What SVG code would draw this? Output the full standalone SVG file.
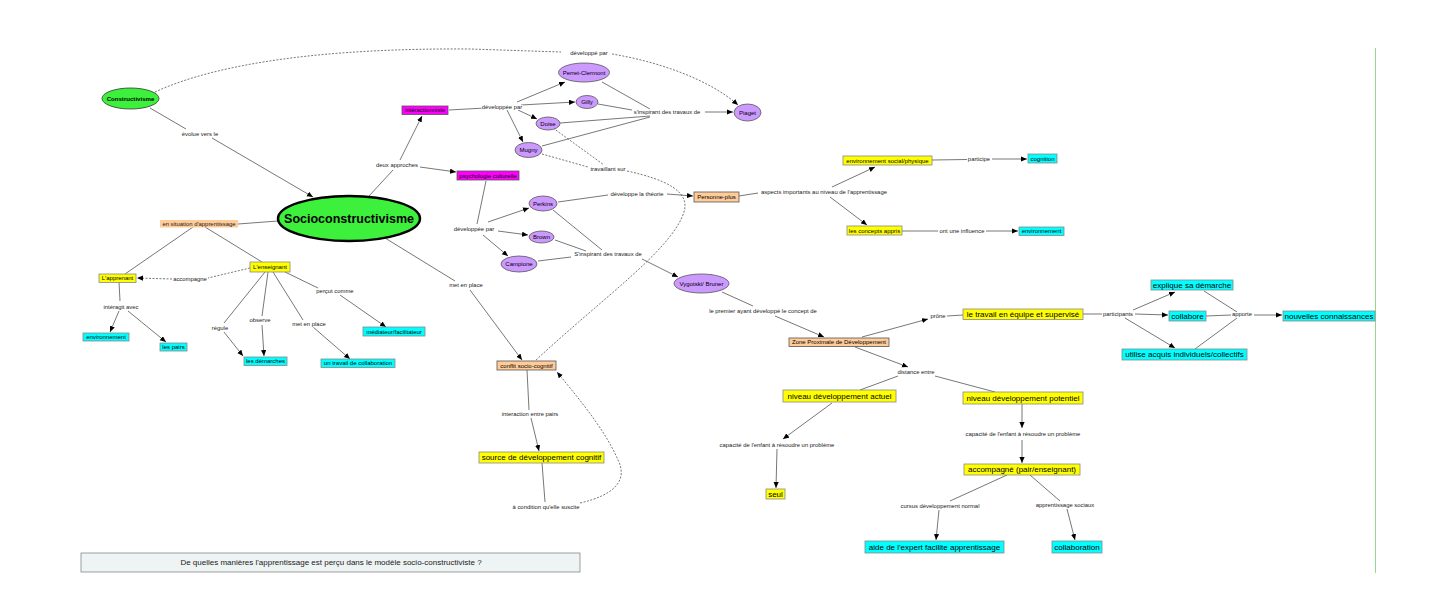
<svg xmlns="http://www.w3.org/2000/svg" width="1450" height="614" viewBox="0 0 1450 614">
<style>
text{font-family:"Liberation Sans",Arial,sans-serif;text-anchor:middle;dominant-baseline:central}
.lk{font-size:5.9px;fill:#222;stroke:#fff;stroke-width:1.6px;paint-order:stroke;stroke-linejoin:round}
.nt{font-size:6px;fill:#000}
.bt{font-size:8px;fill:#000}
.c path{fill:none;stroke:#4a4a4a;stroke-width:0.75}
.c .d{stroke-dasharray:2,1.5}
.y{fill:#ffff00;stroke:#888;stroke-width:0.8}
.cy{fill:#00ffff;stroke:#888;stroke-width:0.8}
.pe{fill:#ffcc99;stroke:#555;stroke-width:0.8}
.mg{fill:#ff00ff;stroke:#555;stroke-width:0.8}
.pu{fill:#cc99ff;stroke:#555;stroke-width:0.8}
.gr{fill:#3cf03c;stroke:#333;stroke-width:0.8}
</style>
<defs>
<marker id="ah" markerUnits="userSpaceOnUse" markerWidth="7" markerHeight="6" refX="6" refY="2.6" orient="auto">
<path d="M0,0 L6,2.6 L0,5.2 z" fill="#000"/>
</marker>
</defs>
<rect width="1450" height="614" fill="#fff"/>
<line x1="1375.5" y1="48" x2="1375.5" y2="573" stroke="#94d894" stroke-width="1"/>

<g id="connectors" class="c">
<path d="M150,108 L186,129"/>
<path d="M212,138 L313,197" marker-end="url(#ah)"/>
<path class="d" d="M155,92 C220,62 330,48 470,49 L561,52"/>
<path class="d" d="M612,54 C660,62 710,80 738,105" marker-end="url(#ah)"/>
<path d="M369,196 L393,170"/>
<path d="M400,160 L422,116" marker-end="url(#ah)"/>
<path d="M420,167 L456,172" marker-end="url(#ah)"/>
<path d="M238,224 L278,221"/>
<path d="M193,227 L125,274"/>
<path d="M205,227 L262,262"/>
<path class="d" d="M250,268 L208,278"/>
<path class="d" d="M172,279 L137,278" marker-end="url(#ah)"/>
<path d="M119,282 L120,301"/>
<path d="M119,311 L110,332" marker-end="url(#ah)"/>
<path d="M128,311 L166,342" marker-end="url(#ah)"/>
<path d="M265,272 L224,323"/>
<path d="M224,332 L243,356" marker-end="url(#ah)"/>
<path d="M268,272 L262,316"/>
<path d="M262,325 L264,356" marker-end="url(#ah)"/>
<path d="M273,272 L303,320"/>
<path d="M313,327 L350,359" marker-end="url(#ah)"/>
<path d="M285,272 L318,288"/>
<path d="M340,295 L386,327" marker-end="url(#ah)"/>
<path d="M385,238 L455,281"/>
<path d="M470,290 L522,360" marker-end="url(#ah)"/>
<path d="M449,110 L485,108"/>
<path d="M517,102 L565,82" marker-end="url(#ah)"/>
<path d="M521,105 L575,102" marker-end="url(#ah)"/>
<path d="M518,110 L537,119" marker-end="url(#ah)"/>
<path d="M507,110 L523,142" marker-end="url(#ah)"/>
<path d="M602,82 L650,109"/>
<path d="M598,104 L632,110"/>
<path d="M560,123 L650,116"/>
<path d="M542,146 L650,117"/>
<path d="M705,112 L733,112" marker-end="url(#ah)"/>
<path class="d" d="M553,128 L604,165"/>
<path class="d" d="M542,154 L588,167"/>
<path class="d" d="M627,171 C668,180 690,192 684,212 C672,250 600,300 535,361"/>
<path d="M486,181 L477,224"/>
<path d="M488,222 L529,208" marker-end="url(#ah)"/>
<path d="M498,231 L528,235" marker-end="url(#ah)"/>
<path d="M483,235 L508,256" marker-end="url(#ah)"/>
<path d="M558,202 L608,195"/>
<path d="M667,194 L693,196" marker-end="url(#ah)"/>
<path d="M553,210 L602,250"/>
<path d="M555,240 L586,251"/>
<path d="M538,261 L571,257"/>
<path d="M642,259 L678,277" marker-end="url(#ah)"/>
<path d="M739,196 L758,193"/>
<path d="M832,187 L875,167" marker-end="url(#ah)"/>
<path d="M830,197 L867,225" marker-end="url(#ah)"/>
<path d="M932,160 L967,159.5"/>
<path d="M992,159 L1027,159" marker-end="url(#ah)"/>
<path d="M902,231 L938,231"/>
<path d="M986,231 L1018,231" marker-end="url(#ah)"/>
<path d="M722,292 L753,306"/>
<path d="M775,316 L824,337" marker-end="url(#ah)"/>
<path d="M862,337 L928,319" marker-end="url(#ah)"/>
<path d="M947,316 L963,315"/>
<path d="M855,347 L908,367" marker-end="url(#ah)"/>
<path d="M898,376 L860,390"/>
<path d="M935,376 L995,392"/>
<path d="M1083,314 L1102,314"/>
<path d="M1133,310 L1175,292" marker-end="url(#ah)"/>
<path d="M1135,314 L1168,315" marker-end="url(#ah)"/>
<path d="M1125,318 L1175,348" marker-end="url(#ah)"/>
<path d="M1204,291 L1237,312"/>
<path d="M1206,316 L1231,315"/>
<path d="M1195,349 L1237,318"/>
<path d="M1254,315 L1282,315" marker-end="url(#ah)"/>
<path d="M832,403 L783,439" marker-end="url(#ah)"/>
<path d="M777,449 L776,488" marker-end="url(#ah)"/>
<path d="M1022,404 L1022,428" marker-end="url(#ah)"/>
<path d="M1022,440 L1022,463" marker-end="url(#ah)"/>
<path d="M1007,475 L950,501"/>
<path d="M939,510 L936,540" marker-end="url(#ah)"/>
<path d="M1030,475 L1060,501"/>
<path d="M1067,509 L1075,540" marker-end="url(#ah)"/>
<path d="M527,370 L529,410"/>
<path d="M531,418 L539,451" marker-end="url(#ah)"/>
<path d="M542,463 L545,502"/>
<path class="d" d="M580,503 C615,495 628,480 618,460 C605,430 580,400 557,372" marker-end="url(#ah)"/>
</g>

<g id="labels">
<text class="lk" x="589" y="53">développé par</text>
<text class="lk" x="200" y="134">évolue vers le</text>
<text class="lk" x="397" y="165">deux approches</text>
<text class="lk" x="502" y="107">développée par</text>
<text class="lk" x="667" y="112">s'inspirant des travaux de</text>
<text class="lk" x="608" y="169">travaillant sur</text>
<text class="lk" x="474" y="229">développée par</text>
<text class="lk" x="637" y="194">développe la théorie</text>
<text class="lk" x="608" y="254">S'inspirant des travaux de</text>
<text class="lk" x="466" y="285">met en place</text>
<text class="lk" x="824" y="192">aspects importants au niveau de l'apprentissage</text>
<text class="lk" x="979" y="159">participe</text>
<text class="lk" x="962" y="231">ont une influence</text>
<text class="lk" x="190" y="279">accompagne</text>
<text class="lk" x="121" y="307">intéragit avec</text>
<text class="lk" x="220" y="328">régule</text>
<text class="lk" x="260" y="320">observe</text>
<text class="lk" x="309" y="324">met en place</text>
<text class="lk" x="335" y="291">perçut comme</text>
<text class="lk" x="530" y="414">interaction entre pairs</text>
<text class="lk" x="546" y="507">à condition qu'elle suscite</text>
<text class="lk" x="763" y="311">le premier ayant développé le concept de</text>
<text class="lk" x="938" y="316">prône</text>
<text class="lk" x="916" y="372">distance entre</text>
<text class="lk" x="1118" y="314">participants</text>
<text class="lk" x="1242" y="314">apporte</text>
<text class="lk" x="777" y="445">capacité de l'enfant à résoudre un problème</text>
<text class="lk" x="1023" y="434">capacité de l'enfant à résoudre un problème</text>
<text class="lk" x="940" y="506">cursus développement normal</text>
<text class="lk" x="1065" y="505">apprentissage sociaux</text>
</g>

<g id="n-constructivisme"><ellipse class="gr" cx="130.5" cy="98.5" rx="28.5" ry="10.5"/><text x="130.5" y="98.5" style="font-size:6.1px;font-weight:bold">Constructivisme</text></g>
<g id="n-socio"><ellipse cx="349" cy="218.5" rx="71" ry="22.5" fill="#3cf03c" stroke="#000" stroke-width="2.5"/><text x="349" y="218.5" style="font-size:12.5px;font-weight:bold">Socioconstructivisme</text></g>
<g id="n-situation"><rect x="160" y="220" width="78" height="7.5" fill="#ffcc99"/><text x="199" y="223.8" style="font-size:5.9px;fill:#222">en situation d'apprentissage</text></g>
<g id="n-interactionniste"><rect class="mg" x="402" y="106" width="46" height="8.5"/><text class="nt" x="425" y="110.3">intéractionniste</text></g>
<g id="n-psycho"><rect class="mg" x="457" y="171" width="62" height="9"/><text class="nt" x="488" y="175.5">psychologie culturelle</text></g>
<g id="n-perret"><ellipse class="pu" cx="584" cy="72.5" rx="25.5" ry="9.5"/><text class="nt" x="584" y="72.5">Perret-Clermont</text></g>
<g id="n-gilly"><ellipse class="pu" cx="587" cy="102" rx="11" ry="6.5"/><text class="nt" x="587" y="102">Gilly</text></g>
<g id="n-doise"><ellipse class="pu" cx="548" cy="123.5" rx="12" ry="6.5"/><text class="nt" x="548" y="123.5">Doise</text></g>
<g id="n-mugny"><ellipse class="pu" cx="528.5" cy="150" rx="13.5" ry="7.5"/><text class="nt" x="528.5" y="150">Mugny</text></g>
<g id="n-piaget"><ellipse class="pu" cx="747.5" cy="112.5" rx="13.5" ry="8.5"/><text class="nt" x="747.5" y="112.5">Piaget</text></g>
<g id="n-perkins"><ellipse class="pu" cx="543" cy="203.5" rx="14" ry="7.5"/><text class="nt" x="543" y="203.5">Perkins</text></g>
<g id="n-brown"><ellipse class="pu" cx="541.5" cy="237" rx="12.5" ry="6"/><text class="nt" x="541.5" y="237">Brown</text></g>
<g id="n-campione"><ellipse class="pu" cx="519" cy="264" rx="18" ry="8"/><text class="nt" x="519" y="264">Campione</text></g>
<g id="n-vygotski"><ellipse class="pu" cx="701.5" cy="283.5" rx="27.5" ry="9.5"/><text class="nt" x="701.5" y="283.5">Vygotski/ Bruner</text></g>
<g id="n-personne"><rect class="pe" x="694" y="192" width="45" height="10"/><text class="nt" x="716.5" y="197">Personne-plus</text></g>
<g id="n-envsocial"><rect class="y" x="843" y="156" width="89" height="9"/><text class="nt" x="887.5" y="160.5">environnement social/physique</text></g>
<g id="n-cognition"><rect class="cy" x="1028" y="154" width="29" height="9"/><text class="nt" x="1042.5" y="158.5">cognition</text></g>
<g id="n-concepts"><rect class="y" x="847" y="226" width="55" height="9"/><text class="nt" x="874.5" y="230.5">les concepts appris</text></g>
<g id="n-environnement-r"><rect class="cy" x="1019" y="227" width="45" height="8.5"/><text class="nt" x="1041.5" y="231.3">environnement</text></g>
<g id="n-apprenant"><rect class="y" x="99" y="274" width="37" height="8.5"/><text class="nt" x="117.5" y="278.3">L'apprenant</text></g>
<g id="n-enseignant"><rect class="y" x="250" y="262" width="40" height="10"/><text class="nt" x="270" y="267">L'enseignant</text></g>
<g id="n-environnement-l"><rect class="cy" x="83" y="333" width="46" height="8"/><text class="nt" x="106" y="337">environnement</text></g>
<g id="n-pairs"><rect class="cy" x="160" y="343" width="27" height="8"/><text class="nt" x="173.5" y="347">les pairs</text></g>
<g id="n-demarches"><rect class="cy" x="244" y="357" width="43" height="8.5"/><text class="nt" x="265.5" y="361.3">les démarches</text></g>
<g id="n-travail-collab"><rect class="cy" x="321" y="359" width="74" height="8.5"/><text class="nt" x="358" y="363.3">un travail de collaboration</text></g>
<g id="n-mediateur"><rect class="cy" x="363" y="327" width="62" height="9"/><text class="nt" x="394" y="331.5">médiateur/facilitateur</text></g>
<g id="n-conflit"><rect class="pe" x="497" y="361" width="59" height="9"/><text class="nt" x="526.5" y="365.5">conflit socio-cognitif</text></g>
<g id="n-source"><rect class="y" x="479" y="452" width="125" height="11"/><text class="bt" x="541.5" y="457.5">source de développement cognitif</text></g>
<g id="n-zpd"><rect class="pe" x="789" y="338" width="100" height="8.5"/><text class="nt" x="839" y="342.3">Zone Proximale de Développement</text></g>
<g id="n-travail-equipe"><rect class="y" x="963" y="309" width="120" height="10.5"/><text class="bt" x="1023" y="314.3">le travail en équipe et supervisé</text></g>
<g id="n-actuel"><rect class="y" x="783" y="390" width="113" height="12"/><text class="bt" x="839.5" y="396">niveau développement actuel</text></g>
<g id="n-potentiel"><rect class="y" x="963" y="392" width="120" height="12"/><text class="bt" x="1023" y="398">niveau développement potentiel</text></g>
<g id="n-explique"><rect class="cy" x="1151" y="280" width="82" height="10"/><text class="bt" x="1192" y="285">explique sa démarche</text></g>
<g id="n-collabore"><rect class="cy" x="1169" y="311" width="37" height="10"/><text class="bt" x="1187.5" y="316">collabore</text></g>
<g id="n-nouvelles"><rect class="cy" x="1283" y="311" width="92" height="10"/><text class="bt" x="1329" y="316">nouvelles connaissances</text></g>
<g id="n-utilise"><rect class="cy" x="1122" y="349" width="125" height="11"/><text class="bt" x="1184.5" y="354.5">utilise acquis individuels/collectifs</text></g>
<g id="n-seul"><rect class="y" x="766" y="489" width="19" height="10"/><text class="bt" x="775.5" y="494">seul</text></g>
<g id="n-accompagne"><rect class="y" x="964" y="464" width="116" height="11"/><text class="bt" x="1022" y="469.5">accompagné (pair/enseignant)</text></g>
<g id="n-aide"><rect class="cy" x="865" y="541" width="139" height="12"/><text class="bt" x="934.5" y="547">aide de l'expert facilite apprentissage</text></g>
<g id="n-collaboration"><rect class="cy" x="1052" y="541" width="50" height="12"/><text class="bt" x="1077" y="547">collaboration</text></g>
<g id="question"><rect x="81" y="553" width="499" height="19" fill="#eef3f3" stroke="#888" stroke-width="0.8"/><text x="331" y="562.5" style="font-size:8px;fill:#222">De quelles manières l'apprentissage est perçu dans le modèle socio-constructiviste ?</text></g>
</svg>
